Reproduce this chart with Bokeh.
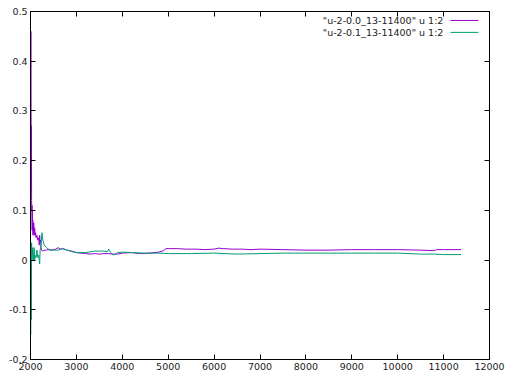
from bokeh.plotting import figure
from bokeh.models import FixedTicker, LinearAxis, Range1d, Label
from bokeh.core.properties import value
from bokeh.embed import file_html
from bokeh.resources import INLINE

# ---- data ----
purple_x = [2000, 2004, 2008, 2012, 2016, 2020, 2024, 2028, 2032, 2036, 2040, 2045, 2050,
            2055, 2060, 2065, 2070, 2080, 2090, 2100, 2110, 2120, 2140, 2160, 2180,
            2190, 2200, 2210, 2220, 2230, 2240, 2260, 2300, 2350, 2400, 2450, 2500, 2550,
            2600, 2650, 2700, 2800, 2900, 3000, 3100, 3200, 3300, 3400, 3500, 3600, 3700,
            3800, 3900, 4000, 4200, 4400, 4600, 4800, 4900, 4950, 5000, 5200, 5400, 5600,
            5800, 6000, 6100, 6200, 6400, 6600, 6800, 7000, 7500, 8000, 8500, 9000, 9500,
            10000, 10500, 10800, 10850, 11000, 11380]
purple_y = [0.20, 0.35, 0.46, 0.30, 0.14, 0.27, 0.12, 0.10, 0.11, 0.06, 0.10, 0.06, 0.08,
            0.05, 0.07, 0.055, 0.075, 0.05, 0.065, 0.05, 0.055, 0.045, 0.05, 0.04, 0.045,
            0.03, 0.05, 0.035, 0.04, 0.025, 0.02, 0.018, 0.02, 0.02, 0.022, 0.02, 0.021, 0.022,
            0.025, 0.022, 0.023, 0.02, 0.018, 0.015, 0.014, 0.013, 0.012, 0.013, 0.012, 0.013, 0.013,
            0.012, 0.012, 0.014, 0.015, 0.013, 0.014, 0.016, 0.019, 0.023, 0.023, 0.023, 0.022, 0.022,
            0.021, 0.022, 0.024, 0.023, 0.022, 0.022, 0.021, 0.022, 0.021, 0.020, 0.020, 0.021, 0.021,
            0.021, 0.020, 0.019, 0.021, 0.021, 0.021]

green_x = [2000, 2004, 2008, 2012, 2016, 2020, 2024, 2030, 2040, 2050, 2060,
           2070, 2080, 2090, 2100, 2120, 2140, 2160, 2180, 2200, 2210, 2230, 2250, 2270,
           2300, 2350, 2400, 2500, 2600, 2700, 2800, 2900, 3000, 3200, 3400, 3600, 3680,
           3700, 3750, 3800, 3900, 4000, 4200, 4500, 4800, 5000, 5500, 6000, 6500, 7000,
           7500, 8000, 8500, 9000, 9500, 10000, 10500, 10800, 11000, 11380]
green_y = [-0.05, -0.15, -0.02, 0.03, -0.12, 0.0, 0.035, 0.0, 0.01, 0.025, 0.0,
           0.01, 0.025, 0.0, 0.01, 0.005, 0.02, 0.005, 0.01, -0.008, 0.02, 0.03, 0.055, 0.04,
           0.03, 0.025, 0.02, 0.02, 0.02, 0.023, 0.02, 0.017, 0.015, 0.015, 0.018, 0.018, 0.017,
           0.022, 0.015, 0.01, 0.015, 0.016, 0.015, 0.014, 0.014, 0.013, 0.013, 0.014, 0.012, 0.013,
           0.014, 0.014, 0.014, 0.014, 0.014, 0.014, 0.012, 0.012, 0.011, 0.011]

x_ticks = [2000, 3000, 4000, 5000, 6000, 7000, 8000, 9000, 10000, 11000, 12000]
y_ticks = [-0.2, -0.1, 0, 0.1, 0.2, 0.3, 0.4, 0.5]
y_labels = ["-0.2", "-0.1", "0", "0.1", "0.2", "0.3", "0.4", "0.5"]
series_names = ['"u-2-0.0_13-11400" u 1:2', '"u-2-0.1_13-11400" u 1:2']
colors = ["#9400D3", "#009E73"]

FONT = "DejaVu Sans"
FS = "9.5px"

p = figure(width=507, height=377, output_backend="svg", toolbar_location=None,
           x_range=Range1d(2000, 12000), y_range=Range1d(-0.2, 0.5),
           min_border_left=30, min_border_right=18, min_border_top=11, min_border_bottom=18)
p.grid.visible = False
p.outline_line_color = "black"
p.outline_line_width = 1
p.background_fill_color = "white"

def style_axis(ax):
    ax.axis_line_color = "black"
    ax.major_tick_in = 5
    ax.major_tick_out = 0
    ax.minor_tick_line_color = None
    ax.major_tick_line_color = "black"
    ax.major_label_text_font = FONT
    ax.major_label_text_font_size = FS
    ax.major_label_text_color = "#222222"
    ax.major_label_standoff = 3

p.xaxis.ticker = FixedTicker(ticks=x_ticks)
p.yaxis.ticker = FixedTicker(ticks=y_ticks)
p.yaxis.major_label_overrides = {t: l for t, l in zip(y_ticks, y_labels)}
style_axis(p.xaxis[0])
style_axis(p.yaxis[0])

top = LinearAxis(ticker=FixedTicker(ticks=x_ticks))
right = LinearAxis(ticker=FixedTicker(ticks=y_ticks))
style_axis(top)
style_axis(right)
top.major_label_overrides = {t: "" for t in x_ticks}
right.major_label_overrides = {t: "" for t in y_ticks}
top.major_label_standoff = 0
right.major_label_standoff = 0
p.add_layout(top, "above")
p.add_layout(right, "right")

p.line(purple_x, purple_y, line_color=colors[0], line_width=1)
p.line(green_x, green_y, line_color=colors[1], line_width=1)

# key (gnuplot style: text right-aligned, sample on the right)
key_text_x = 10995
key_line_x0, key_line_x1 = 11150, 11760
key_y = [0.482, 0.458]
for name, c, ky in zip(series_names, colors, key_y):
    p.text(x=[key_text_x], y=[ky], text=[name], text_align="right", text_baseline="middle",
           text_font=value(FONT), text_font_size=FS, text_color="#222222")
    p.line([key_line_x0, key_line_x1], [ky, ky], line_color=c, line_width=1)

# small stray dot left of the y axis (screen units relative to frame bottom-left)
dot = Label(x=-20, y=191, x_units="screen", y_units="screen", text="•",
            text_align="center", text_baseline="middle",
            text_font_size="7px", text_color="black")
p.add_layout(dot)

open("out.html", "w").write(file_html(p, INLINE))
